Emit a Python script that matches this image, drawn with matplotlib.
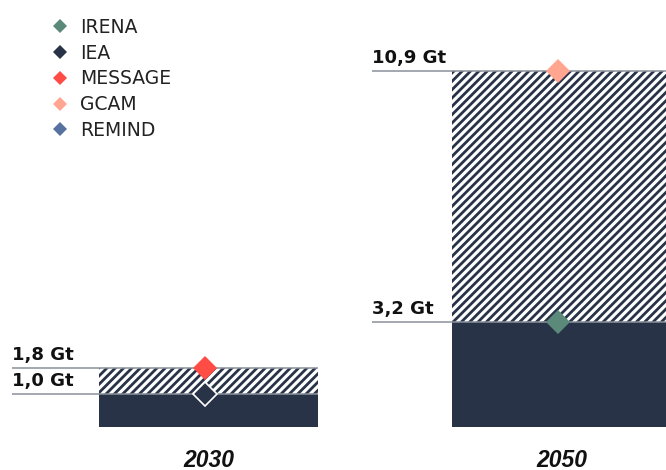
import matplotlib
matplotlib.use("Agg")
import matplotlib.pyplot as plt
from matplotlib.lines import Line2D

# Data (Gt)
years = ["2030", "2050"]
base_values = [1.0, 3.2]        # solid part of each bar
top_values = [1.8, 10.9]        # top of hatched range
value_labels_low = ["1,0 Gt", "3,2 Gt"]
value_labels_high = ["1,8 Gt", "10,9 Gt"]

scenarios = ["IRENA", "IEA", "MESSAGE", "GCAM", "REMIND"]
scenario_colors = ["#5b8a7b", "#283347", "#ff4d45", "#ffa590", "#5872a0"]
# scenario markers placed on the bars: (year index, scenario, value)
marker_year = [1, 0, 0, 1]
marker_scenario = ["IRENA", "IEA", "MESSAGE", "GCAM"]
marker_value = [3.2, 1.0, 1.8, 10.9]

navy = "#283347"
line_gray = "#8a909b"

plt.rcParams["hatch.linewidth"] = 2.0
plt.rcParams["hatch.color"] = navy

fig = plt.figure(figsize=(6.66, 4.70), dpi=100)
ax = fig.add_axes([0, 0, 1, 1])
ax.set_xlim(-0.5907, 1.296)
ax.set_ylim(-1.315, 13.06)
ax.axis("off")

x = [0, 1]
width = 0.620
ax.bar(x, base_values, width=width, color=navy, linewidth=0, zorder=2)
ax.bar(x, [t - b for t, b in zip(top_values, base_values)], bottom=base_values,
       width=width, facecolor="white", edgecolor=navy, linewidth=0,
       hatch="////", zorder=2)

# Reference lines with value labels
line_start = [-0.557, 0.463]
for i in range(2):
    x0 = line_start[i]
    x1 = x[i] + width / 2
    for val, lab in ((base_values[i], value_labels_low[i]),
                     (top_values[i], value_labels_high[i])):
        ax.plot([x0, x1], [val, val], color=line_gray, lw=1.1, zorder=3,
                solid_capstyle="butt")
        ax.text(x0, val + 0.12, lab, ha="left", va="bottom",
                fontsize=13, fontweight="bold", color="#111111",
                family="DejaVu Sans", zorder=4)

# Scenario markers
for yi, sc, val in zip(marker_year, marker_scenario, marker_value):
    col = scenario_colors[scenarios.index(sc)]
    edge = "white" if sc == "IEA" else col
    ax.plot(x[yi] - 0.01, val, marker="D", markersize=12.5, color=col,
            markeredgecolor=edge, markeredgewidth=1.2 if sc == "IEA" else 0,
            linestyle="none", zorder=5)

# Year labels
for xi, yr in zip(x, years):
    ax.text(xi, -1.01, yr, ha="center", va="center", fontsize=16.5,
            fontweight="bold", fontstyle="italic", family="Liberation Sans",
            color="#111111")

# Legend
handles = [Line2D([], [], marker="D", linestyle="none", color=c,
                  markersize=7, markeredgewidth=0)
           for c in scenario_colors]
leg = ax.legend(handles, scenarios, loc="upper left",
                bbox_to_anchor=(0.068, 0.978), frameon=False,
                prop={"family": "DejaVu Sans", "size": 13.5},
                handlelength=0.8, handletextpad=0.65, labelspacing=0.36,
                borderaxespad=0)
for t in leg.get_texts():
    t.set_color("#222222")

fig.savefig("out.png", dpi=100)
